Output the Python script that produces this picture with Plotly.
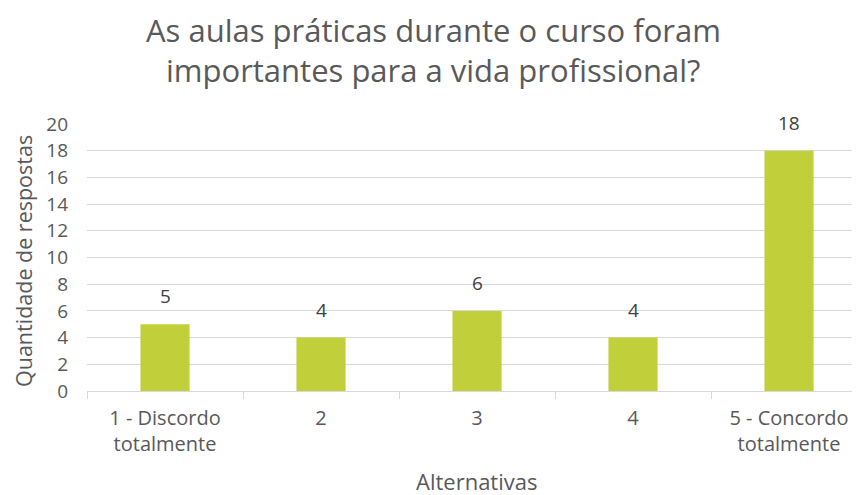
import plotly.graph_objects as go

categories = ["1 - Discordo<br>totalmente", "2", "3", "4", "5 - Concordo<br>totalmente"]
values = [5, 4, 6, 4, 18]
y_ticks = [0, 2, 4, 6, 8, 10, 12, 14, 16, 18, 20]

title_lines = ["As aulas práticas durante o curso foram",
               "importantes para a vida profissional?"]
x_title = "Alternativas"
y_title = "Quantidade de respostas"

font_family = "Open Sans, Noto Sans, sans-serif"
gray = "#595959"

fig = go.Figure(go.Bar(
    x=categories, y=values,
    marker=dict(color="#C0CF3A", line=dict(width=0)),
    width=0.315,
    hoverinfo="x+y",
))

# paper coords: plot spans screen x 87..860 (773 px), y 124..391 (267 px)
annotations = [
    dict(text=title_lines[0], xref="paper", yref="paper",
         x=(433 - 87) / 773, y=1.352, xanchor="center", yanchor="middle",
         showarrow=False, font=dict(size=31, color=gray, family=font_family)),
    dict(text=title_lines[1], xref="paper", yref="paper",
         x=(433 - 87) / 773, y=1.202, xanchor="center", yanchor="middle",
         showarrow=False, font=dict(size=31, color=gray, family=font_family)),
    dict(text=y_title, xref="paper", yref="paper",
         x=(23.5 - 87) / 773, y=0.485, xanchor="center", yanchor="middle", textangle=-90,
         showarrow=False, borderpad=0,
         font=dict(size=21.5, color=gray, family=font_family)),
    dict(text=x_title, xref="paper", yref="paper",
         x=(477 - 87) / 773, y=-(481 - 391) / 267, xanchor="center", yanchor="middle",
         showarrow=False, font=dict(size=22, color=gray, family=font_family)),
]
for i, v in enumerate(values):
    annotations.append(dict(
        text=str(v), x=i, y=v, xref="x", yref="y",
        xanchor="center", yanchor="bottom", yshift=13,
        showarrow=False, font=dict(size=19, color="#404040", family=font_family),
    ))

fig.update_layout(
    width=852, height=487,
    margin=dict(l=79, r=0, t=116, b=104, autoexpand=False),
    paper_bgcolor="white", plot_bgcolor="white",
    showlegend=False,
    font=dict(family=font_family, color=gray),
    annotations=annotations,
)

fig.update_xaxes(
    type="category",
    range=[-0.5, 4.455],
    automargin=False,
    showline=True, linecolor="#D9D9D9", linewidth=1,
    ticks="outside", tickson="boundaries", ticklen=7, tickcolor="#D9D9D9",
    tickfont=dict(size=20, color=gray),
    ticklabelstandoff=9,
    showgrid=False,
)

fig.update_yaxes(
    range=[0, 20],
    automargin=False,
    tickvals=y_ticks,
    showgrid=True, gridcolor="#D9D9D9", gridwidth=1,
    zeroline=False, showline=False,
    tickfont=dict(size=19, color=gray),
    ticks="", ticklabelstandoff=18,
)

fig.write_html("out.html")
